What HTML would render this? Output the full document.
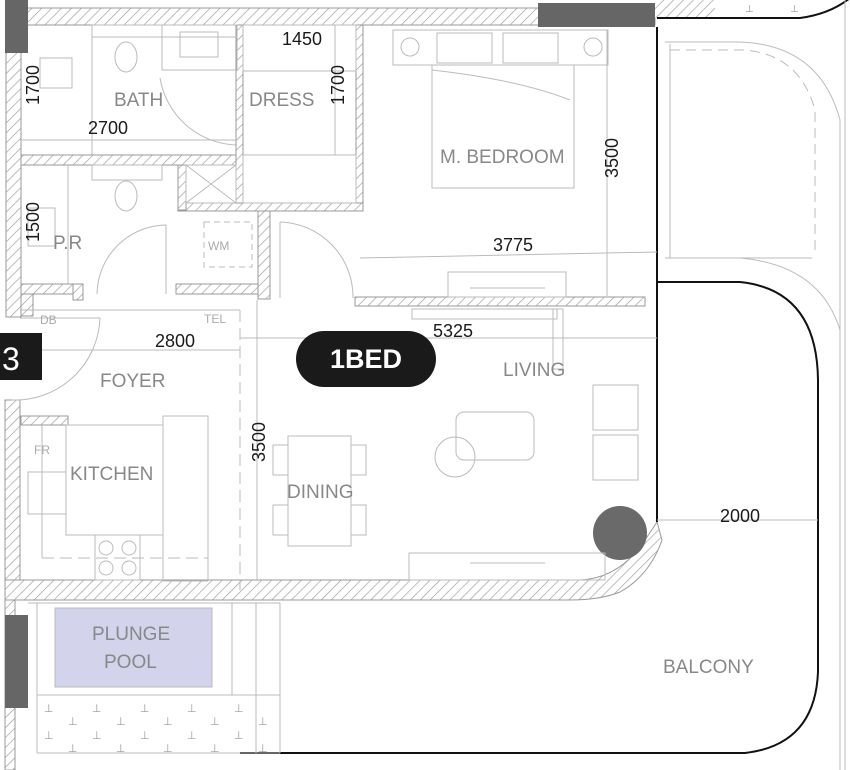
<!DOCTYPE html>
<html><head><meta charset="utf-8"><style>
html,body{margin:0;padding:0;background:#fff;}
svg{display:block}
text{font-family:"Liberation Sans",sans-serif;}
.lb{fill:#888;font-size:19px;}
.dm{fill:#1a1a1a;font-size:18px;}
.sm{fill:#aaa;font-size:12px;}
</style></head><body>
<svg width="850" height="770" viewBox="0 0 850 770" xmlns="http://www.w3.org/2000/svg">
<defs>
<pattern id="h" width="7" height="7" patternUnits="userSpaceOnUse" patternTransform="rotate(45)">
<rect width="7" height="7" fill="#fff"/><line x1="0" y1="0" x2="0" y2="7" stroke="#9a9a9a" stroke-width="1.3"/>
</pattern>
</defs>
<g stroke="#999" stroke-width="1" fill="url(#h)">
<rect x="20" y="8" width="635" height="17"/>
<rect x="655" y="0" width="60" height="18" stroke="none"/>
<rect x="6" y="25" width="15" height="292"/>
<rect x="5" y="400" width="15" height="190"/>
<rect x="5" y="600" width="10" height="170"/>
<rect x="21" y="155" width="220" height="10"/>
<rect x="236" y="25" width="7" height="185"/>
<rect x="356" y="25" width="7" height="185"/>
<rect x="178" y="203" width="185" height="8"/>
<rect x="178" y="165" width="8" height="45"/>
<rect x="21" y="284" width="62" height="10"/>
<rect x="21" y="294" width="12" height="22"/>
<rect x="73" y="284" width="10" height="16"/>
<rect x="176" y="284" width="86" height="10"/>
<rect x="258" y="211" width="12" height="88"/>
<rect x="355" y="297" width="290" height="9"/>
<path d="M5 580 L580 580 Q620 578 645 540 L657 522 L662 540 Q650 575 620 592 Q600 600 570 600 L5 600 Z"/>
<rect x="21" y="416" width="47" height="9"/>
</g>
<rect x="5" y="0" width="23" height="53" fill="#666"/>
<rect x="538" y="3" width="117" height="24" fill="#666"/>
<rect x="5" y="615" width="23" height="93" fill="#666"/>
<circle cx="620" cy="533" r="27" fill="#6a6a6a"/>
<g stroke="#111" stroke-width="2" fill="none">
<line x1="657" y1="27" x2="657" y2="522"/>
<path d="M657 18 L800 18 Q830 14 850 -2"/>
<path d="M657 282 L740 282 Q817 290 818 380 L818 672 Q815 745 745 753 L240 753"/>
</g>
<g fill="#999" font-size="10" font-family="DejaVu Sans,sans-serif">
<text x="745" y="12">⊥</text><text x="790" y="12">⊥</text>
</g>
<g stroke="#bbb" stroke-width="1" fill="none">
<path d="M665 42 L740 42 Q820 45 840 120 L840 770"/>
<path d="M670 44 L670 258 L812 258"/>
<path d="M670 50 L745 50 Q800 55 815 110 L815 250" stroke-dasharray="10 6"/>
<path d="M665 258 L740 258 Q820 265 840 330"/>
<line x1="845" y1="0" x2="845" y2="770"/>
<line x1="657" y1="520" x2="818" y2="520"/>
<line x1="28" y1="603" x2="280" y2="603"/>
<line x1="37" y1="603" x2="37" y2="753"/>
<line x1="37" y1="695" x2="280" y2="695"/>
<line x1="37" y1="753" x2="280" y2="753"/>
<line x1="232" y1="603" x2="232" y2="695"/>
<line x1="256" y1="603" x2="256" y2="753"/>
<line x1="280" y1="603" x2="280" y2="753"/>
<rect x="92" y="25" width="145" height="12"/>
<ellipse cx="126" cy="57" rx="11" ry="15"/>
<rect x="162" y="25" width="75" height="45"/>
<rect x="180" y="32" width="38" height="25"/>
<rect x="40" y="58" width="32" height="30"/>
<path d="M160 78 A80 80 0 0 0 237 145"/>
<line x1="20" y1="140" x2="237" y2="140"/>
<line x1="92" y1="25" x2="92" y2="155"/>
<rect x="243" y="25" width="113" height="46"/>
<line x1="335" y1="25" x2="335" y2="155"/>
<rect x="243" y="155" width="113" height="48"/>
<rect x="92" y="165" width="70" height="15"/>
<ellipse cx="126" cy="196" rx="11" ry="15"/>
<rect x="28" y="208" width="27" height="38"/>
<line x1="68" y1="165" x2="68" y2="284"/>
<rect x="186" y="165" width="50" height="38"/>
<line x1="186" y1="165" x2="236" y2="203"/><line x1="236" y1="165" x2="186" y2="203"/>
<rect x="204" y="222" width="48" height="45" stroke-dasharray="6 4"/>
<path d="M166 225 A70 70 0 0 0 97 294"/>
<line x1="166" y1="225" x2="166" y2="294"/>
<path d="M280 222 A75 75 0 0 1 353 298"/>
<line x1="280" y1="222" x2="280" y2="298"/>
<path d="M100 318 A85 85 0 0 1 12 400"/>
<line x1="20" y1="318" x2="100" y2="318"/>
<line x1="20" y1="310" x2="240" y2="310"/>
<line x1="240" y1="310" x2="240" y2="590" stroke-dasharray="12 6"/>
<line x1="257" y1="300" x2="257" y2="580"/>
<line x1="42" y1="350" x2="240" y2="350"/>
<line x1="240" y1="338" x2="657" y2="338"/>
<line x1="360" y1="258" x2="657" y2="252"/>
<line x1="42" y1="425" x2="42" y2="558"/>
<rect x="28" y="472" width="38" height="42"/>
<rect x="66" y="425" width="97" height="110"/>
<rect x="163" y="416" width="45" height="165"/>
<line x1="42" y1="558" x2="208" y2="558" stroke-dasharray="12 6"/>
<rect x="95" y="535" width="45" height="45"/>
<circle cx="106" cy="548" r="7"/><circle cx="129" cy="548" r="7"/><circle cx="106" cy="568" r="7"/><circle cx="129" cy="568" r="7"/>
<rect x="288" y="436" width="63" height="110"/>
<rect x="273" y="445" width="15" height="30"/><rect x="273" y="505" width="15" height="30"/>
<rect x="351" y="445" width="15" height="30"/><rect x="351" y="505" width="15" height="30"/>
<rect x="393" y="30" width="215" height="35"/>
<circle cx="410" cy="47" r="9"/><circle cx="593" cy="47" r="9"/>
<rect x="437" y="33" width="55" height="30"/><rect x="503" y="33" width="55" height="30"/>
<rect x="432" y="65" width="142" height="123"/>
<path d="M432 70 Q520 80 570 100"/>
<line x1="607" y1="30" x2="607" y2="296"/>
<rect x="448" y="272" width="118" height="25"/>
<line x1="470" y1="288" x2="545" y2="288"/>
<rect x="412" y="309" width="145" height="10"/>
<rect x="553" y="309" width="10" height="60"/>
<rect x="456" y="412" width="78" height="48" rx="8"/>
<circle cx="455" cy="457" r="20"/>
<rect x="593" y="385" width="45" height="45"/><rect x="593" y="435" width="45" height="45"/>
<rect x="409" y="553" width="196" height="27"/>
<line x1="470" y1="563" x2="545" y2="563"/>
</g>
<rect x="55" y="608" width="157" height="79" fill="#d3d3ec" stroke="#bbb"/>
<g fill="#999" font-size="11" font-family="DejaVu Sans,sans-serif">
<text x="44" y="712">⊥</text><text x="92" y="712">⊥</text><text x="140" y="712">⊥</text><text x="187" y="712">⊥</text><text x="234" y="712">⊥</text>
<text x="68" y="725">⊥</text><text x="116" y="725">⊥</text><text x="163" y="725">⊥</text><text x="210" y="725">⊥</text><text x="258" y="725">⊥</text>
<text x="44" y="739">⊥</text><text x="92" y="739">⊥</text><text x="140" y="739">⊥</text><text x="187" y="739">⊥</text><text x="234" y="739">⊥</text>
<text x="68" y="752">⊥</text><text x="116" y="752">⊥</text><text x="163" y="752">⊥</text><text x="210" y="752">⊥</text><text x="258" y="752">⊥</text>
</g>
<text class="lb" x="114" y="106">BATH</text>
<text class="lb" x="249" y="106">DRESS</text>
<text class="lb" x="440" y="163">M. BEDROOM</text>
<text class="lb" x="53" y="249">P.R</text>
<text class="lb" x="100" y="387">FOYER</text>
<text class="lb" x="70" y="480">KITCHEN</text>
<text class="lb" x="287" y="498">DINING</text>
<text class="lb" x="503" y="376">LIVING</text>
<text class="lb" x="663" y="673">BALCONY</text>
<text class="lb" x="92" y="640">PLUNGE</text>
<text class="lb" x="104" y="668">POOL</text>
<text class="sm" x="40" y="324">DB</text>
<text class="sm" x="204" y="323">TEL</text>
<text class="sm" x="208" y="250">WM</text>
<text class="sm" x="34" y="454">FR</text>
<text class="dm" x="282" y="45">1450</text>
<text class="dm" x="88" y="134">2700</text>
<text class="dm" x="155" y="347">2800</text>
<text class="dm" x="493" y="251">3775</text>
<text class="dm" x="433" y="337">5325</text>
<text class="dm" x="720" y="522">2000</text>
<text class="dm" transform="translate(39,105) rotate(-90)">1700</text>
<text class="dm" transform="translate(344,105) rotate(-90)">1700</text>
<text class="dm" transform="translate(618,178) rotate(-90)">3500</text>
<text class="dm" transform="translate(265,462) rotate(-90)">3500</text>
<text class="dm" transform="translate(39,242) rotate(-90)">1500</text>
<rect x="0" y="333" width="42" height="47" fill="#1a1a1a"/>
<text x="2" y="370" fill="#fff" font-size="32">3</text>
<rect x="296" y="331" width="140" height="56" rx="28" fill="#1a1a1a"/>
<text x="366" y="368" fill="#fff" font-size="27" font-weight="bold" text-anchor="middle">1BED</text>
</svg>
</body></html>
